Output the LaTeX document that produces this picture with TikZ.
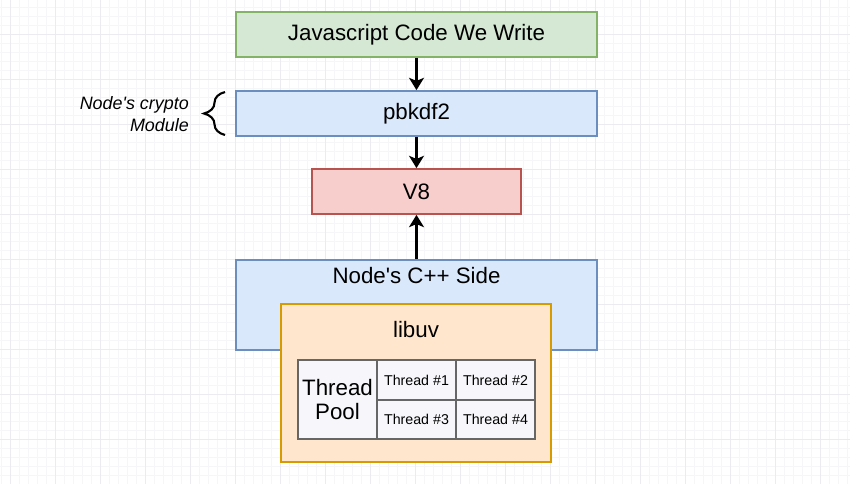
\documentclass[tikz,border=0pt]{standalone}
\usepackage{fontspec}
\setmainfont{Liberation Sans}
\usetikzlibrary{arrows.meta,decorations.pathreplacing}
\definecolor{jsfill}{HTML}{D5E8D4}
\definecolor{jsline}{HTML}{82B366}
\definecolor{bluefill}{HTML}{DAE8FC}
\definecolor{blueline}{HTML}{6C8EBF}
\definecolor{redfill}{HTML}{F8CECC}
\definecolor{redline}{HTML}{B85450}
\definecolor{uvfill}{HTML}{FFE6CC}
\definecolor{uvline}{HTML}{D79B00}
\definecolor{cellfill}{HTML}{F7F6FA}
\definecolor{cellline}{HTML}{666666}
\definecolor{gridlo}{HTML}{F6F6F9}
\definecolor{gridhi}{HTML}{ECECF0}
\begin{document}
\begin{tikzpicture}[x=0.02cm, y=-0.02cm,
    >={Stealth[length=7pt,width=8.5pt,inset=1.8pt]},
    box/.style={draw, line width=1pt, inner sep=0pt, font=\fontsize{12.7}{15}\selectfont},
    cell/.style={draw=cellline, fill=cellfill, line width=1.2pt, inner sep=0pt,
      minimum width=1.58cm, minimum height=0.79cm, font=\fontsize{8.1}{10}\selectfont},
    flow/.style={->, line width=1.7pt},
    big/.style={font=\fontsize{12.7}{15}\selectfont}]
    \useasboundingbox (0,0) rectangle (850,484);
    \fill[white] (0,0) rectangle (850,484);
    % background grid
    \foreach \gx in {0,...,94} \draw[gridlo, line width=0.4pt] ({1.7+9*\gx},0) -- ++(0,484);
    \foreach \gy in {0,...,53} \draw[gridlo, line width=0.4pt] (0,{7+9*\gy}) -- ++(850,0);
    \foreach \gx in {0,...,18} \draw[gridhi, line width=0.5pt] ({10.7+45*\gx},0) -- ++(0,484);
    \foreach \gy in {0,...,10} \draw[gridhi, line width=0.5pt] (0,{34+45*\gy}) -- ++(850,0);

    \node[box, draw=jsline, fill=jsfill, minimum width=7.22cm, minimum height=0.9cm] (js) at (416.5,34.5) {Javascript Code We Write};
    \node[box, draw=blueline, fill=bluefill, minimum width=7.22cm, minimum height=0.9cm] (pbkdf) at (416.5,113.5) {pbkdf2};
    \node[box, draw=redline, fill=redfill, minimum width=4.18cm, minimum height=0.9cm] (veight) at (416.5,191.5) {V8};
    \node[box, draw=blueline, fill=bluefill, minimum width=7.22cm, minimum height=1.8cm] (cppside) at (416.5,305) {};
    \node[big] (cpptext) at (416.5,276) {Node\textquotesingle s C++ Side};
    \node[box, draw=uvline, fill=uvfill, minimum width=5.4cm, minimum height=3.16cm] (libuv) at (416,383) {};
    \node[big] (uvtext) at (416,330) {libuv};

    % thread pool table
    \node[cell, minimum height=1.58cm, align=center, font=\fontsize{12.7}{14.2}\selectfont] (pool) at (337.5,399.5) {Thread\\Pool};
    \node[cell] (tone) at (416.5,380) {Thread \#1};
    \node[cell] (ttwo) at (495.5,380) {Thread \#2};
    \node[cell] (tthree) at (416.5,419.5) {Thread \#3};
    \node[cell] (tfour) at (495.5,419.5) {Thread \#4};

    \draw[flow] (js) -- (pbkdf);
    \draw[flow] (pbkdf) -- (veight);
    \draw[flow] (cppside) -- (veight);

    % brace for the crypto module
    \coordinate (bracelo) at (225,135);
    \coordinate (bracehi) at (225,92);
    \draw[line width=1.2pt, decorate, decoration={brace, amplitude=0.42cm}] (bracelo) -- (bracehi);
    \node[anchor=east, align=right, font=\fontsize{10.2}{12.5}\selectfont\itshape] (crypto) at (195,114) {Node\textquotesingle s crypto\\Module};
\end{tikzpicture}
\end{document}
